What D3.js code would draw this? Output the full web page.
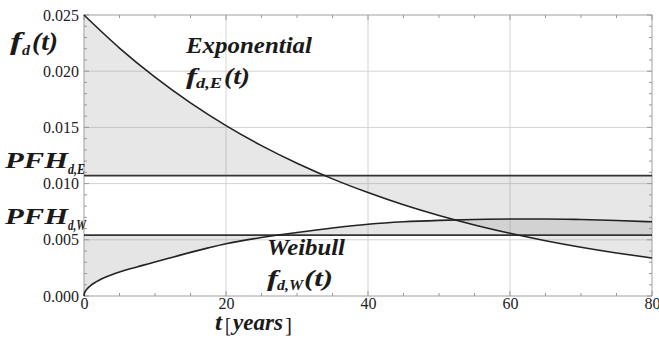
<!DOCTYPE html>
<html>
<head>
<meta charset="utf-8">
<script src="https://cdn.jsdelivr.net/npm/d3@7"></script>
<style>
  html, body { margin: 0; padding: 0; background: #fff; }
  svg { display: block; }
</style>
</head>
<body>
<svg id="chart" width="659" height="338"></svg>
<script>
// ---- data ----
const expYears = [0, 5, 10, 15, 20, 25, 30, 35, 40, 45, 50, 55, 60, 65, 70, 75, 80];
const expValues = [0.0250, 0.02206, 0.01947, 0.01718, 0.01516, 0.01338, 0.01181, 0.01042,
                   0.00920, 0.00811, 0.00716, 0.00632, 0.00558, 0.00492, 0.00434, 0.00383, 0.00338];
const weibullYears = [0, 0.1, 0.25, 0.5, 1, 1.5, 2, 3, 4, 5, 6.5, 8, 10, 12.5, 15, 17.5, 20, 25, 30, 35, 40,
                      45, 50, 55, 60, 65, 70, 75, 80];
const weibullValues = [0, 0.00030, 0.00048, 0.00068, 0.00096, 0.00118, 0.00136, 0.00166, 0.00191, 0.00213,
                       0.00242, 0.00268, 0.00302, 0.00345, 0.00388, 0.00428, 0.00465, 0.00520, 0.00565,
                       0.00605, 0.00638, 0.00660, 0.00673, 0.00681, 0.00685, 0.00685, 0.00680, 0.00672, 0.00660];
const pfhE = 0.01071;
const pfhW = 0.00542;
const xTicks = [0, 20, 40, 60, 80];
const yTicks = [0, 0.005, 0.010, 0.015, 0.020, 0.025];
const xTickLabels = ["0", "20", "40", "60", "80"];
const yTickLabels = ["0.000", "0.005", "0.010", "0.015", "0.020", "0.025"];

// ---- layout ----
const FONT = "Liberation Serif";
const svg = d3.select("#chart");
const pLeft = 84, pRight = 652, pTop = 15, pBottom = 296;
const x = d3.scaleLinear().domain([0, 80]).range([pLeft, pRight]);
const y = d3.scaleLinear().domain([0, 0.025]).range([pBottom, pTop]);

// grid
const grid = svg.append("g").attr("stroke", "#d4d4d4").attr("stroke-width", 1);
grid.selectAll("line.gx").data(xTicks.slice(1, -1)).join("line")
  .attr("x1", d => x(d)).attr("x2", d => x(d)).attr("y1", pTop).attr("y2", pBottom);
grid.selectAll("line.gy").data(yTicks.slice(1, -1)).join("line")
  .attr("y1", d => y(d)).attr("y2", d => y(d)).attr("x1", pLeft).attr("x2", pRight);

// fills
const expPts = expYears.map((t, i) => [t, expValues[i]]);
const weiPts = weibullYears.map((t, i) => [t, weibullValues[i]]);
const areaE = d3.area().x(d => x(d[0])).y0(y(pfhE)).y1(d => y(d[1])).curve(d3.curveMonotoneX);
const areaW = d3.area().x(d => x(d[0])).y0(y(pfhW)).y1(d => y(d[1])).curve(d3.curveMonotoneX);
svg.append("path").attr("d", areaE(expPts)).attr("fill", "#888").attr("fill-opacity", 0.2);
svg.append("path").attr("d", areaW(weiPts)).attr("fill", "#888").attr("fill-opacity", 0.22);

// frame
svg.append("rect").attr("x", pLeft).attr("y", pTop).attr("width", pRight - pLeft).attr("height", pBottom - pTop)
  .attr("fill", "none").attr("stroke", "#a0a0a0").attr("stroke-width", 1);

// axes
const xAxisB = d3.axisBottom(x).tickValues(xTicks).tickFormat((d, i) => xTickLabels[i]).tickSize(0).tickPadding(2);
const gxb = svg.append("g").attr("transform", `translate(0,${pBottom})`).call(xAxisB)
  .attr("font-family", FONT).attr("font-size", 16);
gxb.select(".domain").remove();
gxb.selectAll("text").attr("fill", "#222");

const yAxisL = d3.axisLeft(y).tickValues(yTicks).tickFormat((d, i) => yTickLabels[i]).tickSize(0).tickPadding(5);
const gyl = svg.append("g").attr("transform", `translate(${pLeft},0)`).call(yAxisL)
  .attr("font-family", FONT).attr("font-size", 16);
gyl.select(".domain").remove();
gyl.selectAll("text").attr("fill", "#222");

// tick marks (major + minor) on all four sides, inward
const tickG = svg.append("g").attr("stroke", "#999").attr("stroke-width", 1);
const xMinor = d3.range(0, 81, 5);
const yMinor = d3.range(0, 26).map(i => i * 0.001);
xMinor.forEach(t => {
  const len = (t % 20 === 0) ? 5 : 3;
  tickG.append("line").attr("x1", x(t)).attr("x2", x(t)).attr("y1", pBottom).attr("y2", pBottom - len);
  tickG.append("line").attr("x1", x(t)).attr("x2", x(t)).attr("y1", pTop).attr("y2", pTop + len);
});
yMinor.forEach((v, i) => {
  const len = (i % 5 === 0) ? 5 : 3;
  tickG.append("line").attr("y1", y(v)).attr("y2", y(v)).attr("x1", pLeft).attr("x2", pLeft + len);
  tickG.append("line").attr("y1", y(v)).attr("y2", y(v)).attr("x1", pRight).attr("x2", pRight - len);
});

// PFH lines
svg.append("line").attr("x1", pLeft).attr("x2", pRight).attr("y1", y(pfhE)).attr("y2", y(pfhE))
  .attr("stroke", "#333").attr("stroke-width", 1.6);
svg.append("line").attr("x1", pLeft).attr("x2", pRight).attr("y1", y(pfhW)).attr("y2", y(pfhW))
  .attr("stroke", "#333").attr("stroke-width", 1.6);

// curves
const line = d3.line().x(d => x(d[0])).y(d => y(d[1])).curve(d3.curveMonotoneX);
svg.append("path").attr("d", line(expPts)).attr("fill", "none").attr("stroke", "#222").attr("stroke-width", 1.6);
svg.append("path").attr("d", line(weiPts)).attr("fill", "none").attr("stroke", "#222").attr("stroke-width", 1.6);

// labels: each piece is its own text element, placed at an explicit x span
function piece(txt, x0, x1, baseline, size, italic = true, bold = true) {
  return svg.append("text").attr("x", x0).attr("y", baseline).attr("font-family", FONT)
    .attr("font-size", size).attr("font-style", italic ? "italic" : "normal")
    .attr("font-weight", bold ? "bold" : "normal").attr("fill", "#1a1a1a")
    .attr("textLength", x1 - x0).attr("lengthAdjust", "spacingAndGlyphs").text(txt);
}
// f_d(t)
piece("f", 10, 22, 50, 26);
piece("d", 22, 30, 55, 15);
piece("(t)", 32, 58, 50, 26);
// PFH_{d,E}
piece("PFH", 5, 68, 168, 23);
piece("d,E", 68, 85, 174, 14);
// PFH_{d,W}
piece("PFH", 5, 68, 224, 23);
piece("d,W", 68, 86, 230, 14);
// Exponential f_{d,E}(t)
piece("Exponential", 186, 312, 53, 24);
piece("f", 186, 197, 84, 24);
piece("d,E", 196, 222, 88, 14);
piece("(t)", 224, 250, 84, 24);
// Weibull f_{d,W}(t)
piece("Weibull", 267, 345, 255, 24);
piece("f", 267, 278, 286, 24);
piece("d,W", 277, 303, 290, 14);
piece("(t)", 304, 333, 286, 24);
// x axis title  t[years]
piece("t", 215, 222, 330, 24);
piece("[", 225, 231, 332, 21, false, false);
piece("years", 233, 283, 330, 24);
piece("]", 285, 292, 332, 21, false, false);
</script>
</body>
</html>
